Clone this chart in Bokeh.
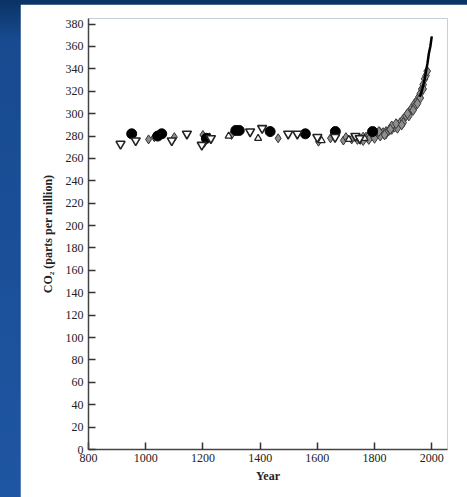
from bokeh.plotting import figure
from bokeh.models import FixedTicker, Range1d
from bokeh.embed import file_html
from bokeh.resources import INLINE

# ---- data ----
# open inverted triangles (ice cores)
tri_down_year = [912, 965, 1091, 1144, 1196, 1228, 1365, 1407, 1498, 1530, 1600, 1662, 1733, 1748]
tri_down_ppm = [273, 276, 276, 282, 272, 278, 284, 287, 282, 282, 279, 279, 280, 278]
# filled circles
circ_year = [951, 1042, 1056, 1212, 1315, 1327, 1435, 1558, 1663, 1793]
circ_ppm = [282, 280, 282, 278, 285, 285, 284, 282, 284, 284]
# small open up-triangles
tri_up_year = [1223, 1290, 1393, 1615, 1710, 1765]
tri_up_ppm = [279, 280, 278, 276, 277, 278]
# grey hatched markers
grey_year = [1010, 1030, 1100, 1200, 1205, 1300, 1463, 1604, 1646, 1691, 1700, 1720]
grey_ppm = [277, 279, 279, 281, 274, 281, 278, 275, 278, 276, 279, 277]
# dense ice-core band
band_year = [1740, 1750, 1760, 1770, 1780, 1790, 1800, 1810, 1820, 1830, 1840, 1850, 1860,
             1870, 1880, 1890, 1900, 1910, 1920, 1930, 1940, 1950, 1955, 1960, 1965,
             1970, 1975, 1980, 1984, 1760, 1780, 1800, 1820, 1840, 1860, 1880, 1900,
             1920, 1940, 1960, 1970, 1815, 1835, 1855, 1875, 1895, 1915, 1935, 1950]
band_ppm = [277, 277, 279, 279, 280, 280, 281, 282, 283, 283, 284, 285, 286,
            288, 290, 292, 295, 298, 301, 305, 309, 312, 315, 318, 322,
            326, 331, 334, 338, 276, 277, 278, 280, 282, 289, 287, 292,
            298, 306, 314, 322, 284, 281, 286, 291, 290, 300, 303, 309]
# atmospheric record
ml_year = [1958, 1965, 1970, 1975, 1980, 1985, 1990, 1995, 2000]
ml_ppm = [315, 320, 325, 331, 338, 345, 354, 360, 369]

x_ticks = [800, 1000, 1200, 1400, 1600, 1800, 2000]
y_ticks = list(range(0, 381, 20))

p = figure(width=447, height=493, output_backend="svg", toolbar_location=None,
           x_range=Range1d(800, 2055), y_range=Range1d(0, 385),
           min_border_left=68, min_border_right=20, min_border_top=14, min_border_bottom=48)
p.outline_line_color = None
p.grid.grid_line_color = None
p.background_fill_color = "white"
p.border_fill_color = "white"

p.scatter(band_year, band_ppm, marker="diamond", size=10, fill_color="#8f8f8f",
          line_color="#3c3c3c", line_width=1)
p.line(ml_year, ml_ppm, line_color="black", line_width=2.5)
p.scatter(grey_year, grey_ppm, marker="diamond", size=9, fill_color="#8f8f8f",
          line_color="#303030", line_width=1)
p.scatter(tri_up_year, tri_up_ppm, marker="triangle", size=7, fill_color="white",
          line_color="#222222", line_width=1.3)
p.scatter(circ_year, circ_ppm, marker="circle", size=10, fill_color="black", line_color="black")
p.scatter(tri_down_year, tri_down_ppm, marker="inverted_triangle", size=9, fill_color="white",
          line_color="#222222", line_width=1.6)

for ax in (p.xaxis[0], p.yaxis[0]):
    ax.axis_line_color = "#444444"
    ax.axis_line_width = 1.5
    ax.major_tick_line_color = "#333333"
    ax.major_tick_line_width = 1.5
    ax.major_tick_in = 7
    ax.major_tick_out = 0
    ax.minor_tick_line_color = None
    ax.major_label_text_font = "Liberation Serif"
    ax.major_label_text_font_size = "12px"
    ax.major_label_text_color = "#222222"
    ax.axis_label_text_font = "Liberation Serif"
    ax.axis_label_text_font_style = "bold"
    ax.axis_label_text_font_size = "12px"
    ax.axis_label_text_color = "#222222"

p.xaxis.ticker = FixedTicker(ticks=x_ticks)
p.yaxis.ticker = FixedTicker(ticks=y_ticks)
p.xaxis.axis_label = "Year"
p.yaxis.axis_label = "CO\u2082 (parts per million)"
p.xaxis.major_label_standoff = 4
p.yaxis.major_label_standoff = 5
p.xaxis.axis_label_standoff = 4
p.yaxis.axis_label_standoff = 8

template = """
{% block preamble %}
<style>
html { background: linear-gradient(180deg, #0a3366 0px, #174a8f 40px, #1f56a3 100%); }
body { background: transparent; margin: 4px 0 0 20px !important; }
</style>
{% endblock %}
"""

open("out.html", "w").write(file_html(p, INLINE, template=template))
